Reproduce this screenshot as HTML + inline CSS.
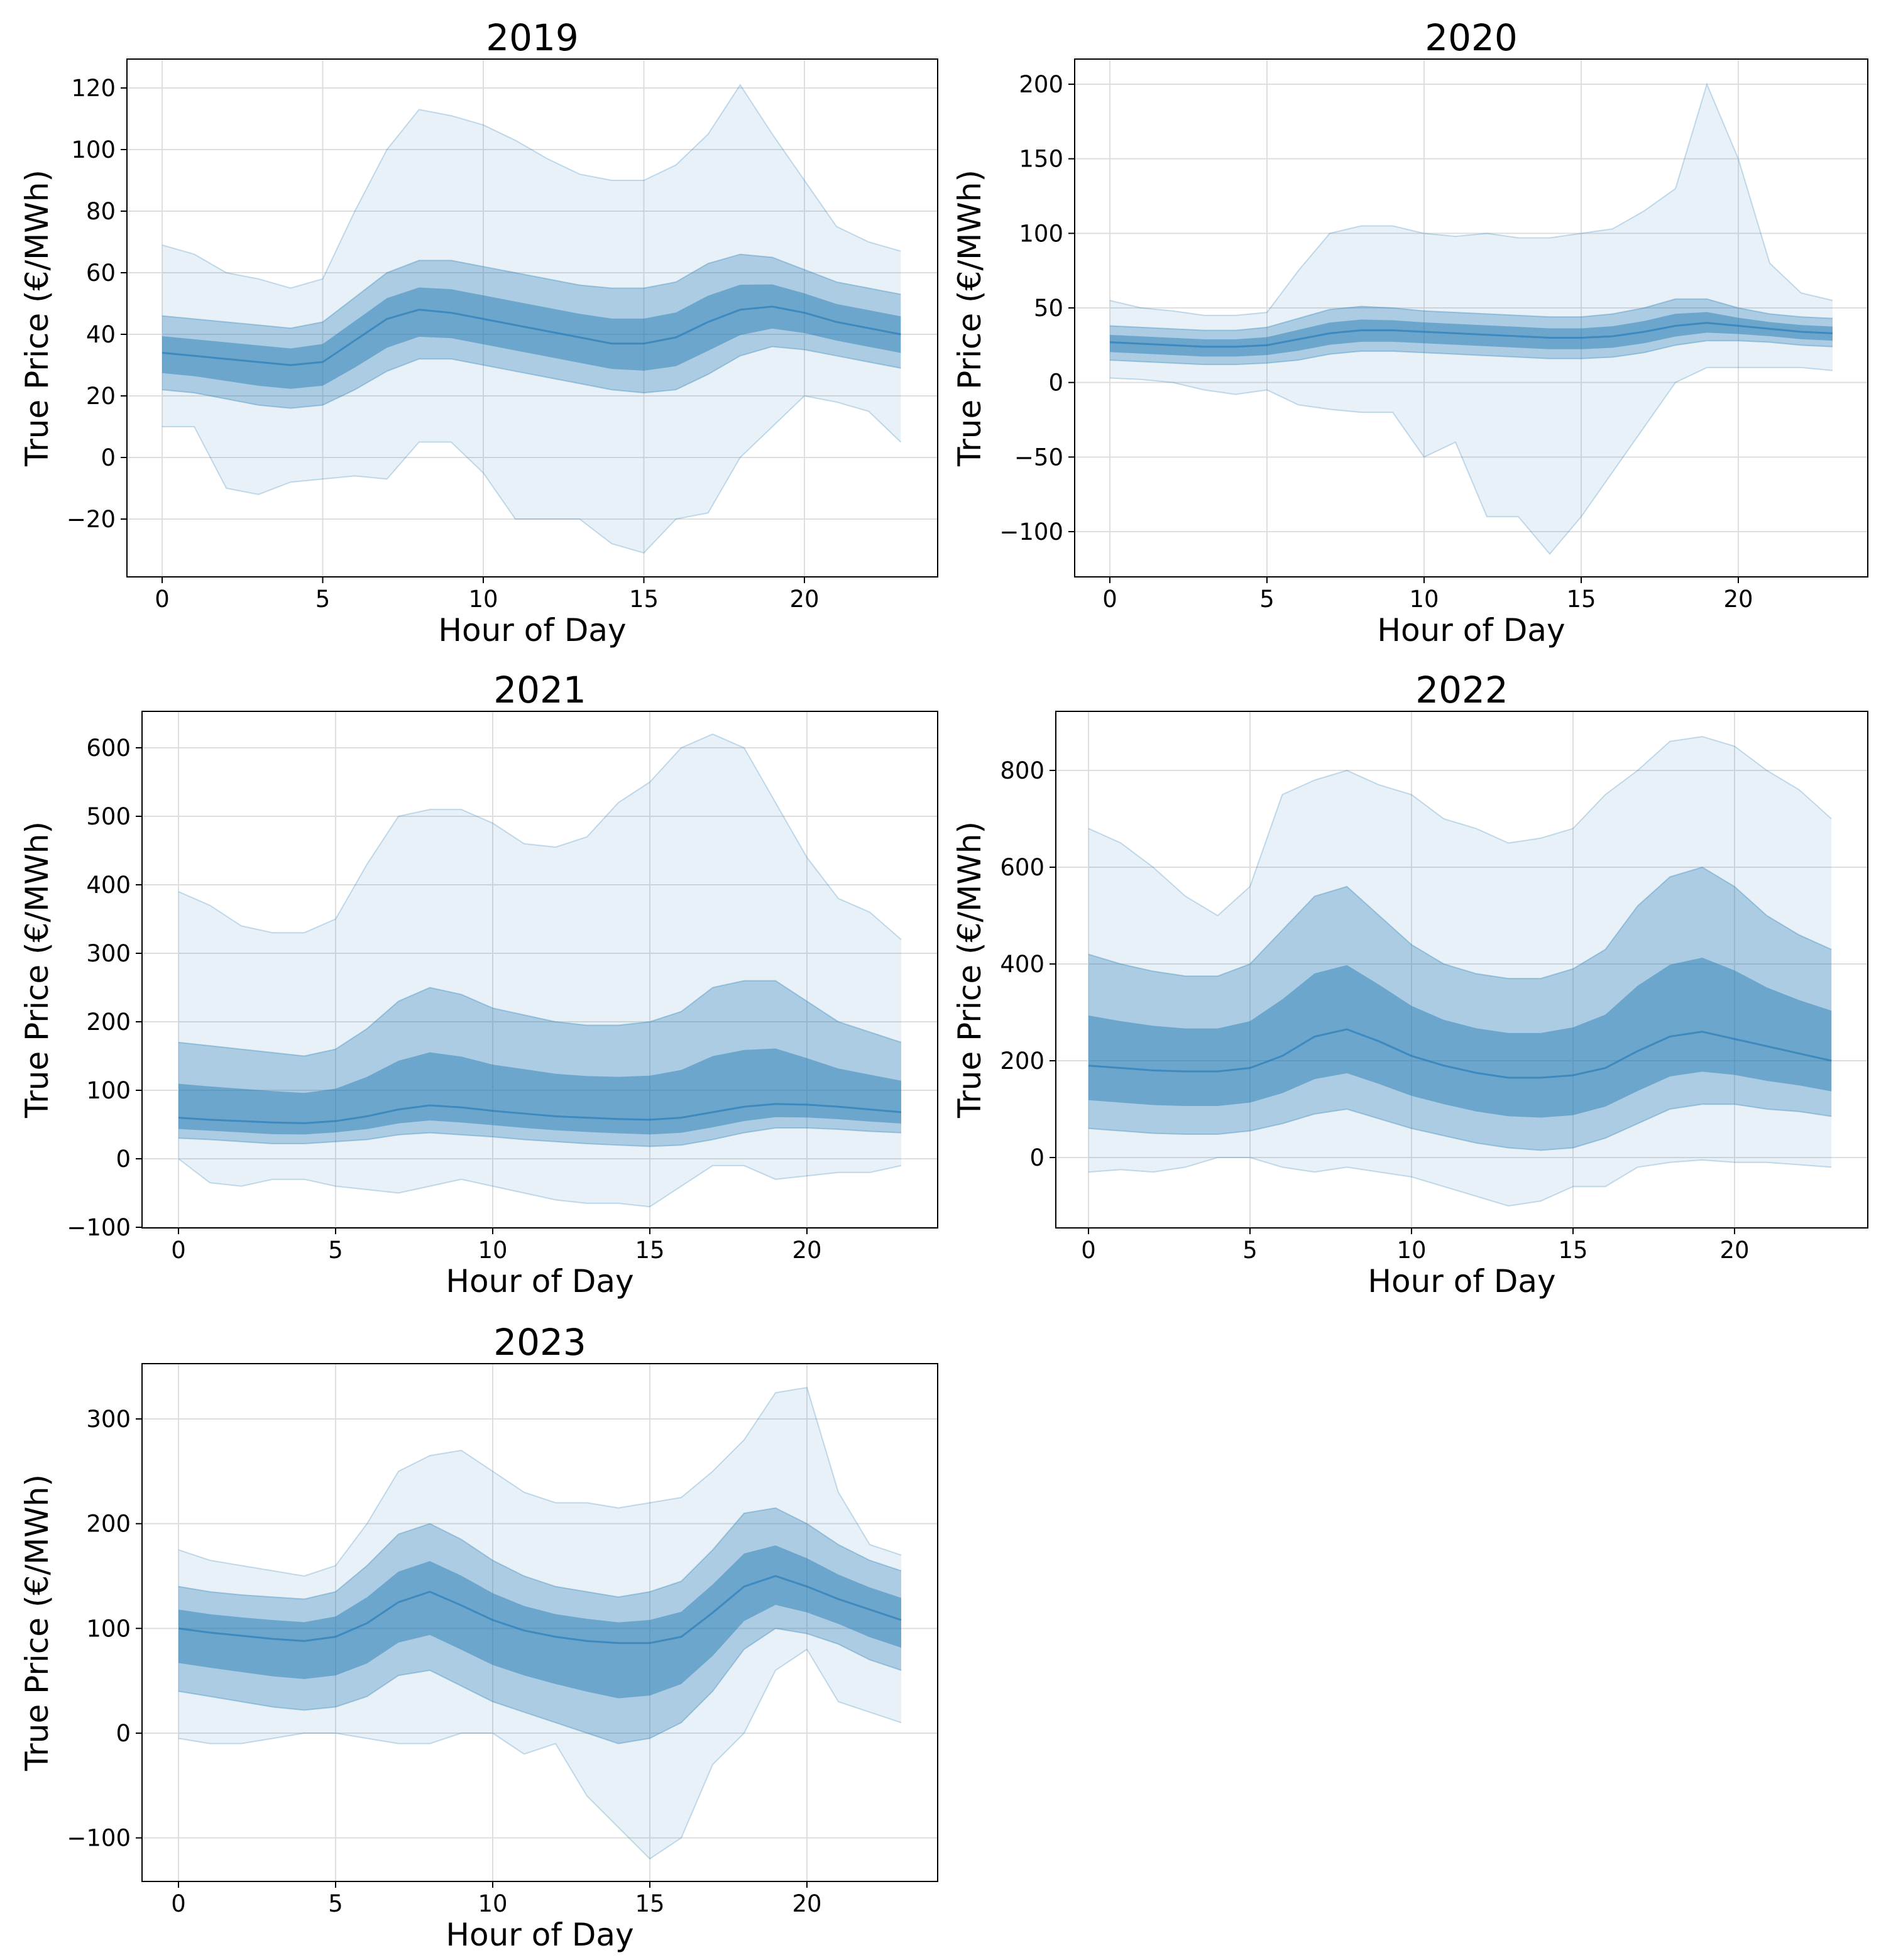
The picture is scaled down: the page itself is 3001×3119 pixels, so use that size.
<!DOCTYPE html>
<html><head><meta charset="utf-8"><style>
html,body{margin:0;padding:0;background:#fff}
svg{display:block;font-family:"DejaVu Sans","Liberation Sans",sans-serif}
</style></head><body>
<svg id="fig" width="3001" height="3119" viewBox="0 0 3001 3119" xmlns="http://www.w3.org/2000/svg"></svg>
<script>
// ---- data (€ /MWh by hour 0..23) ----
const hours = [0,1,2,3,4,5,6,7,8,9,10,11,12,13,14,15,16,17,18,19,20,21,22,23];
const xTicks = [0,5,10,15,20];
const years = ["2019","2020","2021","2022","2023"];

const mid2019 = [34,33,32,31,30,31,38,45,48,47,45,43,41,39,37,37,39,44,48,49,47,44,42,40];
const lo2019  = [22,21,19,17,16,17,22,28,32,32,30,28,26,24,22,21,22,27,33,36,35,33,31,29];
const hi2019  = [46,45,44,43,42,44,52,60,64,64,62,60,58,56,55,55,57,63,66,65,61,57,55,53];
const min2019 = [10,10,-10,-12,-8,-7,-6,-7,5,5,-5,-20,-20,-20,-28,-31,-20,-18,0,10,20,18,15,5];
const max2019 = [69,66,60,58,55,58,80,100,113,111,108,103,97,92,90,90,95,105,121,105,90,75,70,67];
const yTicks2019 = [-20,0,20,40,60,80,100,120];

const mid2020 = [27,26,25,24,24,25,29,33,35,35,34,33,32,31,30,30,31,34,38,40,38,36,34,33];
const lo2020  = [15,14,13,12,12,13,15,19,21,21,20,19,18,17,16,16,17,20,25,28,28,27,25,24];
const hi2020  = [38,37,36,35,35,37,43,49,51,50,48,47,46,45,44,44,46,50,56,56,50,46,44,43];
const min2020 = [3,2,0,-5,-8,-5,-15,-18,-20,-20,-50,-40,-90,-90,-115,-90,-60,-30,0,10,10,10,10,8];
const max2020 = [55,50,48,45,45,47,75,100,105,105,100,98,100,97,97,100,103,115,130,200,150,80,60,55];
const yTicks2020 = [-100,-50,0,50,100,150,200];

const mid2021 = [60,57,55,53,52,55,62,72,78,75,70,66,62,60,58,57,60,68,76,80,79,76,72,68];
const lo2021  = [30,28,25,22,22,25,28,35,38,35,32,28,25,22,20,18,20,28,38,45,45,43,40,38];
const hi2021  = [170,165,160,155,150,160,190,230,250,240,220,210,200,195,195,200,215,250,260,260,230,200,185,170];
const min2021 = [0,-35,-40,-30,-30,-40,-45,-50,-40,-30,-40,-50,-60,-65,-65,-70,-40,-10,-10,-30,-25,-20,-20,-10];
const max2021 = [390,370,340,330,330,350,430,500,510,510,490,460,455,470,520,550,600,620,600,520,440,380,360,320];
const yTicks2021 = [-100,0,100,200,300,400,500,600];

const mid2022 = [190,185,180,178,178,185,210,250,265,240,210,190,175,165,165,170,185,220,250,260,245,230,215,200];
const lo2022  = [60,55,50,48,48,55,70,90,100,80,60,45,30,20,15,20,40,70,100,110,110,100,95,85];
const hi2022  = [420,400,385,375,375,400,470,540,560,500,440,400,380,370,370,390,430,520,580,600,560,500,460,430];
const min2022 = [-30,-25,-30,-20,0,0,-20,-30,-20,-30,-40,-60,-80,-100,-90,-60,-60,-20,-10,-5,-10,-10,-15,-20];
const max2022 = [680,650,600,540,500,560,750,780,800,770,750,700,680,650,660,680,750,800,860,870,850,800,760,700];
const yTicks2022 = [0,200,400,600,800];

const mid2023 = [100,96,93,90,88,92,105,125,135,122,108,98,92,88,86,86,92,115,140,150,140,128,118,108];
const lo2023  = [40,35,30,25,22,25,35,55,60,45,30,20,10,0,-10,-5,10,40,80,100,95,85,70,60];
const hi2023  = [140,135,132,130,128,135,160,190,200,185,165,150,140,135,130,135,145,175,210,215,200,180,165,155];
const min2023 = [-5,-10,-10,-5,0,0,-5,-10,-10,0,0,-20,-10,-60,-90,-120,-100,-30,0,60,80,30,20,10];
const max2023 = [175,165,160,155,150,160,200,250,265,270,250,230,220,220,215,220,225,250,280,325,330,230,180,170];
const yTicks2023 = [-100,0,100,200,300];

const series = {
  "2019":{mid:mid2019,lo:lo2019,hi:hi2019,mn:min2019,mx:max2019,ticks:yTicks2019},
  "2020":{mid:mid2020,lo:lo2020,hi:hi2020,mn:min2020,mx:max2020,ticks:yTicks2020},
  "2021":{mid:mid2021,lo:lo2021,hi:hi2021,mn:min2021,mx:max2021,ticks:yTicks2021},
  "2022":{mid:mid2022,lo:lo2022,hi:hi2022,mn:min2022,mx:max2022,ticks:yTicks2022},
  "2023":{mid:mid2023,lo:lo2023,hi:hi2023,mn:min2023,mx:max2023,ticks:yTicks2023}
};
const layout = {
  "2019":{L:202,R:1492,T:94,B:918, x0:258,x20:1280, ya:120,pa:140, yb:-20,pb:826, lx:76},
  "2020":{L:1710,R:2972,T:94,B:918, x0:1766,x20:2766, ya:200,pa:134, yb:-100,pb:846, lx:1560},
  "2021":{L:226,R:1492,T:1132,B:1954, x0:284,x20:1284, ya:600,pa:1190, yb:0,pb:1844, lx:76},
  "2022":{L:1680,R:2972,T:1132,B:1954, x0:1732,x20:2760, ya:800,pa:1226, yb:0,pb:1842, lx:1560},
  "2023":{L:226,R:1492,T:2170,B:2994, x0:284,x20:1284, ya:300,pa:2258, yb:0,pb:2758, lx:76}
};
const NS="http://www.w3.org/2000/svg";
const svg=document.getElementById('fig');
function mk(tag,attrs,parent){const e=document.createElementNS(NS,tag);for(const k in attrs)e.setAttribute(k,attrs[k]);(parent||svg).appendChild(e);return e;}
const C="31,119,180";
years.forEach(yr=>{
  const d=series[yr], g=layout[yr];
  const X=h=>g.x0+(g.x20-g.x0)*h/20;
  const Y=v=>g.pb+(g.pa-g.pb)*(v-g.yb)/(g.ya-g.yb);
  const grp=mk('g',{});
  
  
  const clipId='clip'+yr;
  const cp=mk('clipPath',{id:clipId},grp);
  mk('rect',{x:g.L,y:g.T,width:g.R-g.L,height:g.B-g.T},cp);
  xTicks.forEach(t=>{const l=mk('line',{x1:X(t),x2:X(t),y1:g.T,y2:g.B,stroke:'#dedede','stroke-width':2},grp);});
  d.ticks.forEach(t=>{const l=mk('line',{x1:g.L,x2:g.R,y1:Y(t),y2:Y(t),stroke:'#dedede','stroke-width':2},grp);});
  const plot=mk('g',{'clip-path':'url(#'+clipId+')'},grp);
  const band=(a,b,op,name)=>{
    let p=hours.map((h,i)=>X(h)+','+Y(b[i])).join(' ')+' '+hours.slice().reverse().map((h,j)=>{const i=hours.length-1-j;return X(h)+','+Y(a[i]);}).join(' ');
    const e=mk('polygon',{points:p,fill:'rgba('+C+','+op+')'},plot);
    
    
  };
  const line=(a,op,w,name)=>{
    const e=mk('polyline',{points:hours.map((h,i)=>X(h)+','+Y(a[i])).join(' '),fill:'none',stroke:'rgba('+C+','+op+')','stroke-width':w},plot);
    
    
  };
  band(d.mn,d.mx,0.10,'outer-envelope-'+yr);
  band(d.lo,d.hi,0.30,'inner-band-'+yr);
  const cl=d.mid.map((m,i)=>m-(m-d.lo[i])*0.55), ch=d.mid.map((m,i)=>m+(d.hi[i]-m)*0.45);
  band(cl,ch,0.45,'core-band-'+yr);
  line(d.mn,0.25,2,'min-line-'+yr);
  line(d.mx,0.25,2,'max-line-'+yr);
  line(d.lo,0.3,2,'low-line-'+yr);
  line(d.hi,0.3,2,'high-line-'+yr);
  line(d.mid,0.6,3,'median-line-'+yr);
  const fr=mk('rect',{x:g.L,y:g.T,width:g.R-g.L,height:g.B-g.T,fill:'none',stroke:'#000','stroke-width':2},grp);
  
  
  xTicks.forEach(t=>{
    mk('line',{x1:X(t),x2:X(t),y1:g.B,y2:g.B+10,stroke:'#000','stroke-width':2},grp);
    const tx=mk('text',{x:X(t),y:g.B+48,'font-size':37,'text-anchor':'middle'},grp);
    
    
    tx.textContent=t;
  });
  d.ticks.forEach(t=>{
    mk('line',{x1:g.L-10,x2:g.L,y1:Y(t),y2:Y(t),stroke:'#000','stroke-width':2},grp);
    const tx=mk('text',{x:g.L-18,y:Y(t)+13,'font-size':37,'text-anchor':'end'},grp);
    
    
    tx.textContent=(t<0?'\u2212'+(-t):t);
  });
  const xl=mk('text',{x:(g.L+g.R)/2,y:g.B+102,'font-size':50,'text-anchor':'middle'},grp);
  
  
  xl.textContent='Hour of Day';
  const lx=g.lx, cy=(g.T+g.B)/2;
  const yl=mk('text',{x:lx,y:cy,'font-size':50,'text-anchor':'middle',transform:'rotate(-90 '+lx+' '+cy+')'},grp);
  
  
  yl.textContent='True Price (\u20AC/MWh)';
  const ti=mk('text',{x:(g.L+g.R)/2,y:g.T-14,'font-size':58,'text-anchor':'middle'},grp);
  
  
  ti.textContent=yr;
});
</script>
</body></html>
